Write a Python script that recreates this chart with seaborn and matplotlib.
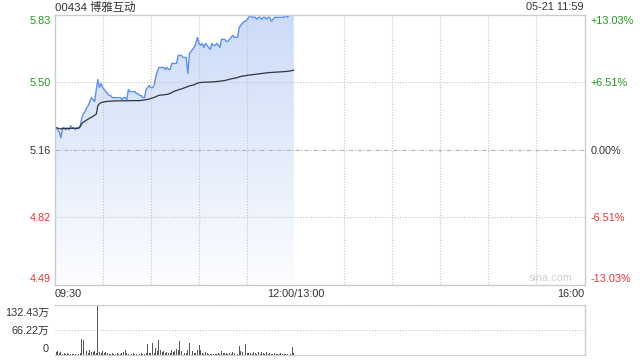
import numpy as np
import pandas as pd
import matplotlib
matplotlib.use("Agg")
import matplotlib.pyplot as plt
import seaborn as sns
from matplotlib.patches import Polygon
from matplotlib.transforms import ScaledTranslation

sns.set_theme(style="white")
plt.rcParams["font.family"] = ["Liberation Sans", "Noto Sans CJK SC", "DejaVu Sans"]

# ---------------- data ----------------
title = "00434 博雅互动"
stamp = "05-21 11:59"
prev_close = 5.16
pct_levels = [-13.03, -6.51, 0.00, 6.51, 13.03]
pct_labels = ["-13.03%", "-6.51%", "0.00%", "+6.51%", "+13.03%"]
time_ticks = [0, 150, 330]          # minutes of trading since 09:30
time_labels = ["09:30", "12:00/13:00", "16:00"]
vol_ticks = [0, 66.22, 132.43]
vol_labels = ["0", "66.22万", "132.43万"]
watermark = "sina.com"

price = [
    5.28, 5.27, 5.26, 5.25, 5.22, 5.27, 5.27, 5.26, 5.27, 5.26,
    5.28, 5.27, 5.27, 5.26, 5.27, 5.27, 5.28, 5.32, 5.34, 5.35,
    5.37, 5.38, 5.40, 5.42, 5.41, 5.40, 5.46, 5.51, 5.47, 5.49,
    5.47, 5.46, 5.45, 5.44, 5.43, 5.43, 5.42, 5.42, 5.42, 5.42,
    5.42, 5.42, 5.41, 5.42, 5.42, 5.41, 5.46, 5.45, 5.45, 5.45,
    5.45, 5.44, 5.44, 5.43, 5.43, 5.42, 5.42, 5.46, 5.47, 5.48,
    5.47, 5.47, 5.48, 5.52, 5.55, 5.57, 5.57, 5.57, 5.57, 5.56,
    5.57, 5.56, 5.56, 5.59, 5.59, 5.59, 5.59, 5.63, 5.63, 5.63,
    5.62, 5.62, 5.62, 5.54, 5.64, 5.65, 5.66, 5.67, 5.69, 5.72,
    5.69, 5.68, 5.69, 5.67, 5.69, 5.68, 5.67, 5.66, 5.69, 5.68,
    5.68, 5.69, 5.68, 5.67, 5.71, 5.71, 5.71, 5.70, 5.70, 5.71,
    5.72, 5.73, 5.72, 5.72, 5.72, 5.77, 5.78, 5.79, 5.80, 5.80,
    5.81, 5.82, 5.83, 5.82, 5.82, 5.82, 5.81, 5.82, 5.82, 5.81,
    5.82, 5.82, 5.81, 5.82, 5.82, 5.80, 5.81, 5.82, 5.82, 5.82,
    5.82, 5.82, 5.82, 5.82, 5.83, 5.82, 5.83, 5.83, 5.83, 5.83,
]

avg_price = [
    5.272, 5.270, 5.268, 5.266, 5.264, 5.265, 5.266, 5.266, 5.266, 5.266,
    5.267, 5.267, 5.267, 5.267, 5.267, 5.267, 5.275, 5.290, 5.298, 5.303,
    5.308, 5.313, 5.318, 5.322, 5.327, 5.332, 5.338, 5.380, 5.390, 5.395,
    5.397, 5.399, 5.400, 5.401, 5.402, 5.402, 5.403, 5.403, 5.404, 5.404,
    5.404, 5.404, 5.404, 5.404, 5.404, 5.404, 5.404, 5.405, 5.405, 5.405,
    5.405, 5.405, 5.405, 5.405, 5.406, 5.407, 5.408, 5.410, 5.411, 5.413,
    5.416, 5.418, 5.421, 5.424, 5.428, 5.431, 5.432, 5.433, 5.434, 5.435,
    5.436, 5.438, 5.441, 5.445, 5.449, 5.453, 5.455, 5.458, 5.461, 5.463,
    5.466, 5.469, 5.472, 5.475, 5.478, 5.480, 5.482, 5.484, 5.488, 5.492,
    5.494, 5.495, 5.496, 5.496, 5.497, 5.497, 5.497, 5.498, 5.498, 5.498,
    5.499, 5.500, 5.501, 5.502, 5.503, 5.504, 5.505, 5.507, 5.509, 5.511,
    5.513, 5.515, 5.516, 5.518, 5.520, 5.523, 5.525, 5.527, 5.528, 5.529,
    5.531, 5.532, 5.533, 5.534, 5.535, 5.536, 5.537, 5.538, 5.539, 5.540,
    5.541, 5.542, 5.543, 5.544, 5.545, 5.545, 5.546, 5.546, 5.547, 5.547,
    5.548, 5.548, 5.549, 5.549, 5.550, 5.551, 5.552, 5.553, 5.555, 5.557,
]

volume = [  # 万股
    12, 8, 9, 4, 6, 2, 3, 2, 5, 2,
    2, 1, 2, 2, 1, 2, 3, 42, 40, 6,
    10, 5, 12, 8, 6, 9, 4, 132.43, 6, 4,
    9, 5, 6, 3, 2, 2, 3, 1, 2, 3,
    2, 2, 4, 8, 11, 3, 2, 5, 2, 3,
    1, 2, 1, 2, 3, 2, 2, 3, 28, 4,
    3, 32, 5, 18, 9, 38, 12, 6, 10, 4,
    8, 5, 3, 12, 7, 9, 14, 12, 35, 10,
    8, 4, 3, 12, 31, 16, 9, 5, 4, 11,
    25, 12, 4, 2, 6, 3, 2, 2, 1, 2,
    2, 1, 3, 2, 9, 5, 3, 4, 2, 3,
    2, 6, 3, 2, 2, 24, 10, 6, 3, 28,
    5, 3, 4, 2, 6, 3, 2, 8, 2, 7,
    3, 2, 6, 2, 3, 2, 1, 3, 2, 1,
    2, 3, 2, 1, 2, 2, 3, 2, 20, 4,
]

minutes = np.arange(len(price))
df = pd.DataFrame({"minute": minutes, "price": price, "avg": avg_price, "volume": volume})

# ---------------- styling constants ----------------
GREEN = "#1a9e1a"
RED = "#ee3333"
DARK = "#333333"
BORDER = "#cccccc"
GRID = "#c4c4c4"
FS = 7.8

W, H = 640, 360
fig = plt.figure(figsize=(W / 100, H / 100), dpi=100)
fig.patch.set_facecolor("white")

ax = fig.add_axes([54.5 / W, 1 - 284.8 / H, 530 / W, 270 / H])
vax = fig.add_axes([54.5 / W, 1 - 354.5 / H, 530 / W, 49.5 / H])

tick_prices = [prev_close * (1 + p / 100) for p in pct_levels]
ymin, ymax = tick_prices[0], tick_prices[-1]
xmax = time_ticks[-1]

# ---------------- main price panel ----------------
ax.set_facecolor("white")
ax.set_xlim(0, xmax)
ax.set_ylim(ymin, ymax)

# gradient fill under the price line
poly = Polygon(
    list(zip(df["minute"], df["price"])) + [(df["minute"].iloc[-1], ymin), (0, ymin)],
    closed=True, facecolor="none", edgecolor="none", transform=ax.transData,
)
ax.add_patch(poly)
top_c = np.array([204, 219, 247]) / 255
bot_c = np.array([252, 253, 255]) / 255
t = np.linspace(0, 1, 256)[:, None]
grad = top_c[None, :] * (1 - t) + bot_c[None, :] * t
grad = grad[:, None, :]
im = ax.imshow(grad, extent=[0, df["minute"].iloc[-1], ymin, ymax],
               aspect="auto", origin="upper", zorder=0.2, interpolation="bilinear")
im.set_clip_path(poly)

sns.lineplot(data=df, x="minute", y="price", ax=ax, color="#5b8ff0", lw=1.0, zorder=3)
sns.lineplot(data=df, x="minute", y="avg", ax=ax, color="#2e3442", lw=0.9, zorder=3)
ax.set_xlim(0, xmax)
ax.set_ylim(ymin, ymax)
ax.set_xlabel("")
ax.set_ylabel("")

# grid
ax.set_xticks(np.arange(0, xmax + 1, 30), minor=True)
ax.set_xticks(time_ticks)
ax.set_xticklabels(time_labels)
ax.set_yticks(tick_prices)
ax.set_yticklabels([f"{v:.2f}" for v in tick_prices])
ax.grid(False)
ax.grid(which="minor", axis="x", color=GRID, ls=(0, (1, 1.5)), lw=0.8)
ax.grid(which="major", axis="y", color=GRID, ls=(0, (1, 1.5)), lw=0.8)
glines = ax.yaxis.get_gridlines()
glines[2].set_linestyle((0, (4, 1.5, 1, 1.5)))
glines[2].set_color("#b4b4b4")
glines[0].set_visible(False)
glines[-1].set_visible(False)
ax.set_axisbelow(True)

for s in ax.spines.values():
    s.set_color(BORDER)
    s.set_linewidth(1.0)
    s.set_zorder(5)

ax.tick_params(axis="both", which="both", length=0)
ax.tick_params(axis="x", pad=3.0, labelsize=FS, labelcolor=DARK)
ax.tick_params(axis="y", pad=2.6, labelsize=FS)

xl = ax.get_xticklabels()
xl[0].set_horizontalalignment("left")
xl[-1].set_horizontalalignment("right")

colors = [RED, RED, DARK, GREEN, GREEN]
yl = ax.get_yticklabels()
for lab, c in zip(yl, colors):
    lab.set_color(c)
yl[0].set_transform(yl[0].get_transform() + ScaledTranslation(0, 0.065, fig.dpi_scale_trans))
yl[-1].set_transform(yl[-1].get_transform() + ScaledTranslation(0, -0.055, fig.dpi_scale_trans))

# right percentage axis
ax2 = ax.twinx()
ax2.set_ylim(ymin, ymax)
ax2.set_yticks(tick_prices)
ax2.set_yticklabels(pct_labels)
ax2.tick_params(axis="y", length=0, pad=4.5, labelsize=FS)
ax2.grid(False)
for s in ax2.spines.values():
    s.set_visible(False)
rl = ax2.get_yticklabels()
for lab, c in zip(rl, colors):
    lab.set_color(c)
rl[0].set_transform(rl[0].get_transform() + ScaledTranslation(0, 0.065, fig.dpi_scale_trans))
rl[-1].set_transform(rl[-1].get_transform() + ScaledTranslation(0, -0.055, fig.dpi_scale_trans))

ax.text(0.978, 0.024, watermark, transform=ax.transAxes, ha="right", va="center",
        fontsize=FS, color="#d0d0d0", zorder=6)

# ---------------- volume panel ----------------
vax.set_facecolor("white")
sns.barplot(data=df, x="minute", y="volume", ax=vax, native_scale=True,
            color="#555555", width=0.6, errorbar=None, linewidth=0, saturation=1)
vax.set_xlim(0, xmax)
vax.set_ylim(vol_ticks[0], vol_ticks[-1])
vax.set_xlabel("")
vax.set_ylabel("")
vax.set_xticks([])
vax.set_yticks(vol_ticks)
vax.set_yticklabels(vol_labels)
vax.grid(False)
vax.grid(axis="y", color=GRID, ls=(0, (1, 1.5)), lw=0.8, zorder=0)
vax.set_axisbelow(True)
vax.spines["left"].set_visible(False)
vax.spines["right"].set_color(BORDER)
vax.spines["right"].set_linewidth(1.0)
for k in ("top", "bottom"):
    vax.spines[k].set_color(GRID)
    vax.spines[k].set_linestyle((0, (1, 1.5)))
    vax.spines[k].set_linewidth(0.8)
vax.tick_params(axis="y", length=0, pad=4.0, labelsize=FS, labelcolor=DARK)
vl = vax.get_yticklabels()
vl[0].set_transform(vl[0].get_transform() + ScaledTranslation(0, 0.06, fig.dpi_scale_trans))
vl[-1].set_transform(vl[-1].get_transform() + ScaledTranslation(0, -0.067, fig.dpi_scale_trans))

# ---------------- header texts ----------------
fig.text(55 / W, 1 - 7.5 / H, title, ha="left", va="center", fontsize=FS + 0.4, color=DARK)
fig.text(584 / W, 1 - 7.5 / H, stamp, ha="right", va="center", fontsize=FS, color=DARK)

fig.savefig("out.png", dpi=100, facecolor="white")
